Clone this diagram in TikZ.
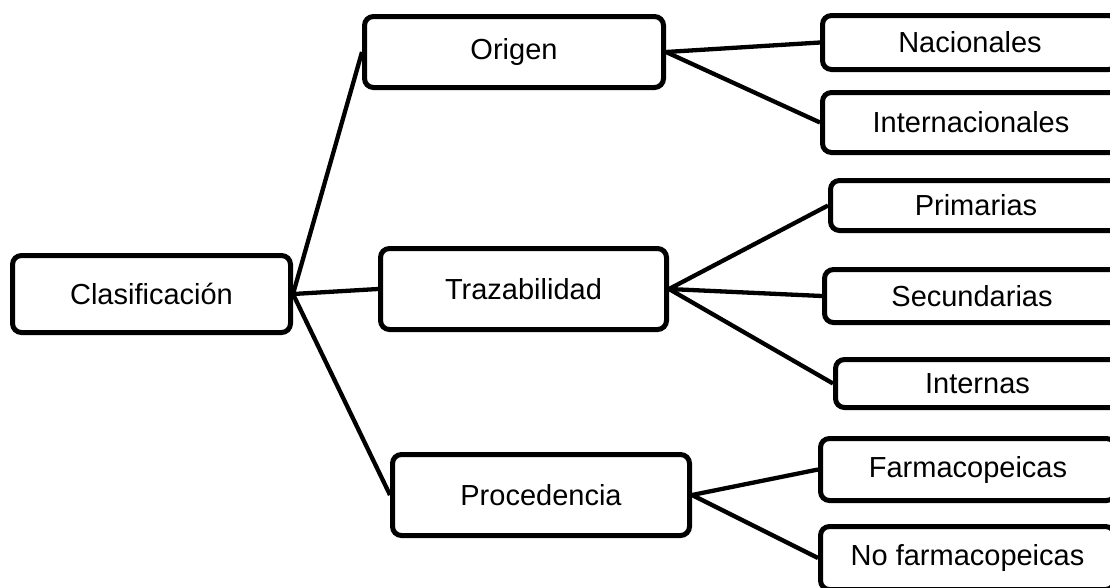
\documentclass[tikz,border=0pt]{standalone}
\usepackage{fontspec}
\setmainfont{Liberation Sans}
\begin{document}
\begin{tikzpicture}[x=1pt,y=-1pt,
  box/.style={draw=black, line width=5pt, rounded corners=9pt, fill=white,
    inner sep=0pt, font=\fontsize{29}{34}\selectfont, text=black},
  link/.style={draw=black, line width=4.3pt}]
\useasboundingbox (0,0) rectangle (1110,587);
\clip (0,0) rectangle (1110,587);

% root
\node[box, minimum width=278pt, minimum height=77pt] (cla) at (151.5,294) {Clasificación};

% second level
\node[box, minimum width=299pt, minimum height=71pt] (ori) at (514,52) {Origen};
\node[box, minimum width=286pt, minimum height=81pt] (tra) at (523.5,289) {Trazabilidad};
\node[box, minimum width=297pt, minimum height=81pt] (pro) at (541,495) {Procedencia};

% leaves
\node[box, minimum width=295pt, minimum height=54pt] (nac) at (970,42.5) {Nacionales};
\node[box, minimum width=297pt, minimum height=60pt] (int) at (971,122.5) {Internacionales};
\node[box, minimum width=291pt, minimum height=50pt] (pri) at (976,205.5) {Primarias};
\node[box, minimum width=295pt, minimum height=53pt] (sec) at (972,296) {Secundarias};
\node[box, minimum width=284pt, minimum height=48pt] (inn) at (977.5,383.5) {Internas};
\node[box, minimum width=295pt, minimum height=62pt] (far) at (968,469.5) {Farmacopeicas};
\node[box, minimum width=294pt, minimum height=63pt] (nof) at (967.5,558) {No farmacopeicas};

% connectors
\draw[link] (cla.east) -- (ori.west);
\draw[link] (cla.east) -- (tra.west);
\draw[link] (cla.east) -- (pro.west);
\draw[link] (ori.east) -- (nac.west);
\draw[link] (ori.east) -- (int.west);
\draw[link] (tra.east) -- (pri.west);
\draw[link] (tra.east) -- (sec.west);
\draw[link] (tra.east) -- (inn.west);
\draw[link] (pro.east) -- (far.west);
\draw[link] (pro.east) -- (nof.west);
\end{tikzpicture}
\end{document}
